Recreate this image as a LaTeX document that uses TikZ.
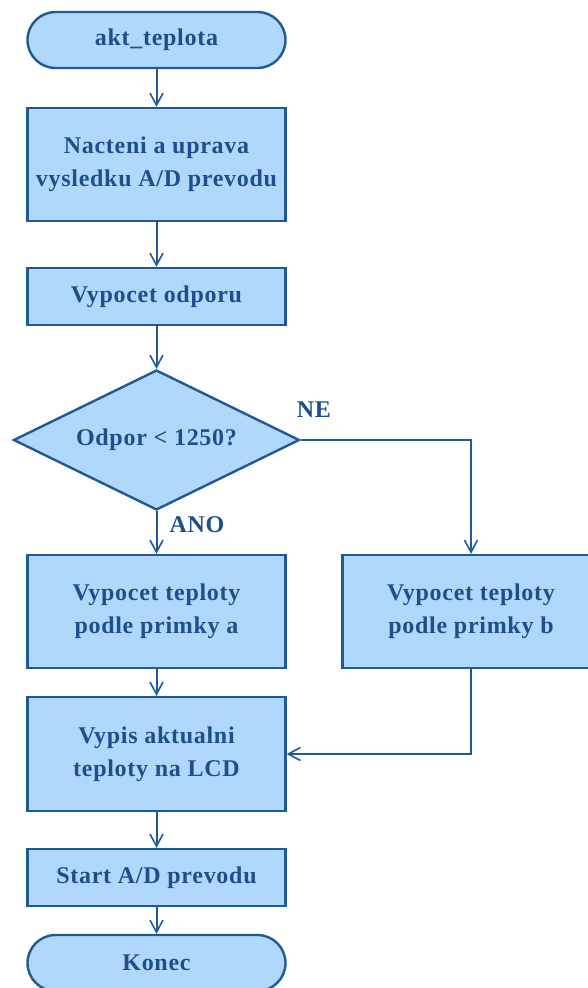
\documentclass[tikz,border=0pt]{standalone}
\usepackage{fontspec}
\setmainfont{Liberation Serif}[LetterSpace=3]
\usetikzlibrary{arrows.meta,shapes.geometric}
\definecolor{fillc}{HTML}{B0D8FC}
\definecolor{strokec}{HTML}{1F5A96}
\definecolor{textc}{HTML}{1E4E8C}
\tikzset{
  base/.style={draw=strokec, fill=fillc, line width=2.4pt, text=textc,
    font=\fontsize{24}{33}\selectfont\bfseries, align=center, inner sep=0pt},
  procbox/.style={base, rectangle, minimum width=258pt},
  termbox/.style={base, rectangle, rounded corners=28pt, minimum width=258pt, minimum height=56pt},
  decbox/.style={base, diamond, aspect=2.04, minimum width=286pt, minimum height=140pt},
  conn/.style={draw=strokec, line width=2pt, -{Straight Barb[length=12pt,width=13pt,line width=1.6pt]}},
  lbl/.style={text=textc, font=\fontsize{24}{28}\selectfont\bfseries, inner sep=0pt}
}
\begin{document}
\begin{tikzpicture}[x=1pt,y=1pt]
\clip (0,0) rectangle (588,-988);
\fill[white] (0,0) rectangle (588,-988);
\node[termbox] (start) at (156.5,-40) {akt\_teplota};
\node[procbox, minimum height=113pt] (n1) at (156.5,-164.5) {Nacteni a uprava\\vysledku A/D prevodu};
\node[procbox, minimum height=57pt] (n2) at (156.5,-296.5) {Vypocet odporu};
\node[decbox] (dec) at (156.5,-440) {Odpor \textless{} 1250?};
\node[procbox, minimum height=113pt] (a) at (156.5,-611.5) {Vypocet teploty\\podle primky a};
\node[procbox, minimum height=113pt, minimum width=257pt] (b) at (471,-611.5) {Vypocet teploty\\podle primky b};
\node[procbox, minimum height=114pt] (c) at (156.5,-754) {Vypis aktualni\\teploty na LCD};
\node[procbox, minimum height=57pt] (d) at (156.5,-877.5) {Start A/D prevodu};
\node[termbox] (e) at (156.5,-963) {Konec};
\node[lbl] (ne) at (314,-410) {NE};
\node[lbl] (ano) at (197,-525) {ANO};
\draw[conn] (start) -- (n1);
\draw[conn] (n1) -- (n2);
\draw[conn] (n2) -- (dec);
\draw[conn] (dec) -- (a);
\draw[conn] (dec.east) -| (b.north);
\draw[conn] (a) -- (c);
\draw[conn] (b.south) |- (c.east);
\draw[conn] (c) -- (d);
\draw[conn] (d) -- (e);
\end{tikzpicture}
\end{document}
